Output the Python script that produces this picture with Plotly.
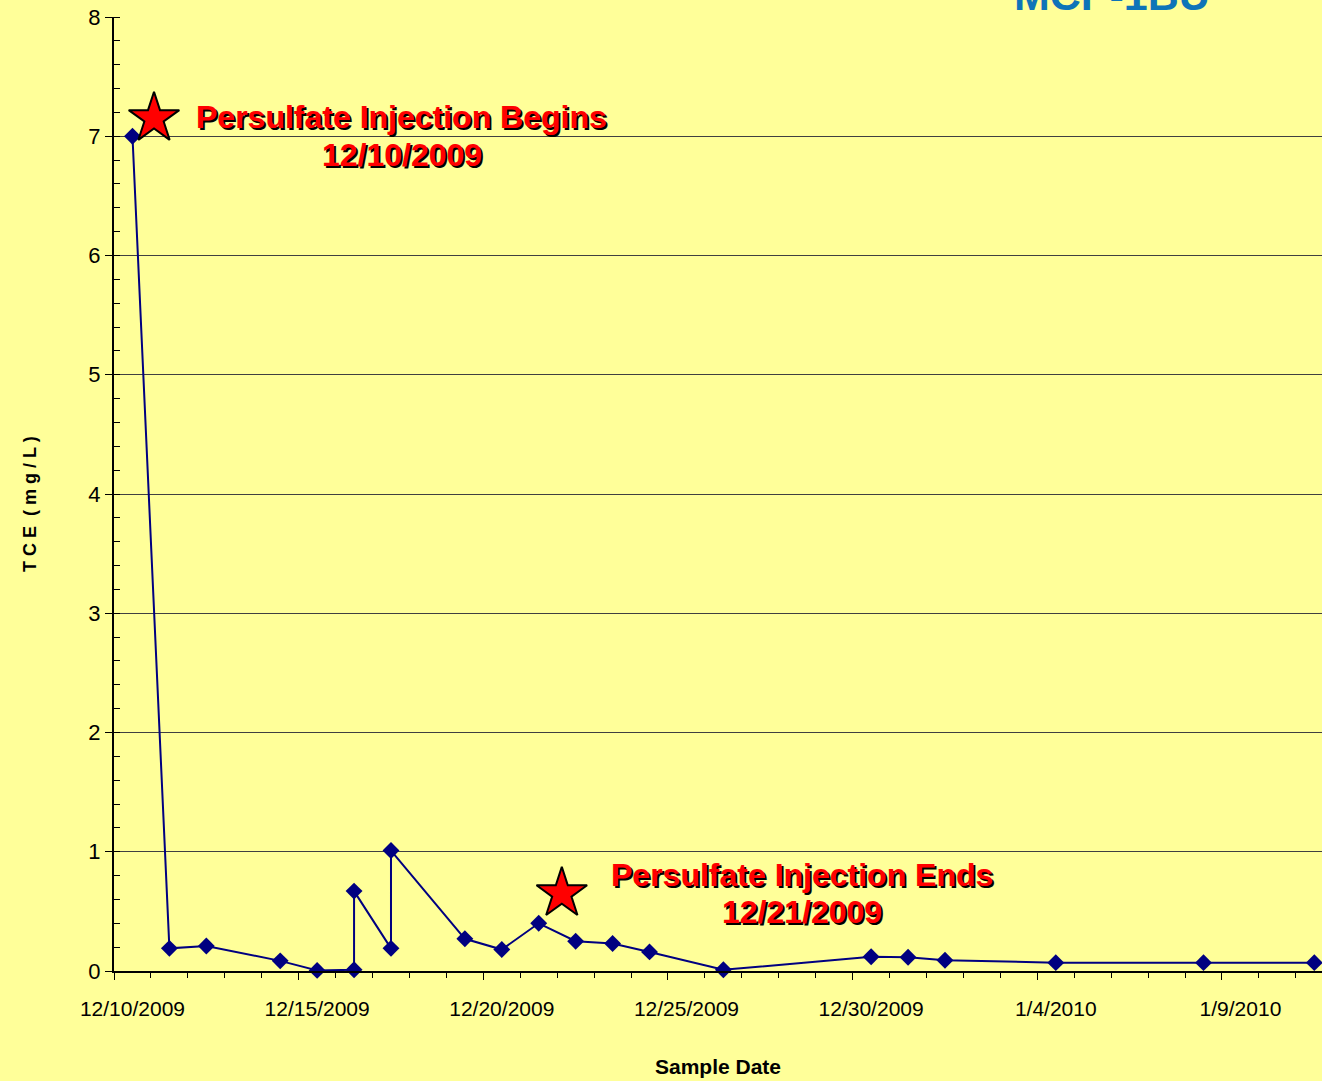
import plotly.graph_objects as go

# ---- data ----
sample_dates = ["2009-12-10", "2009-12-11", "2009-12-12", "2009-12-14", "2009-12-15",
                "2009-12-16", "2009-12-16", "2009-12-17", "2009-12-17", "2009-12-19",
                "2009-12-20", "2009-12-21", "2009-12-22", "2009-12-23", "2009-12-24",
                "2009-12-26", "2009-12-30", "2009-12-31", "2010-01-01", "2010-01-04",
                "2010-01-08", "2010-01-11"]
tce_values = [7.0, 0.19, 0.21, 0.085, 0.005,
              0.01, 0.67, 0.19, 1.01, 0.27,
              0.18, 0.40, 0.25, 0.23, 0.16,
              0.01, 0.12, 0.115, 0.09, 0.07,
              0.07, 0.07]

event_dates = ["2009-12-10 14:00", "2009-12-21 15:00"]
event_values = [7.15, 0.65]
event_line1 = ["Persulfate Injection Begins", "Persulfate Injection Ends"]
event_line2 = ["12/10/2009", "12/21/2009"]
event_label_x = ["2009-12-17 07:00", "2009-12-28 03:00"]
event_label_y1 = [7.16, 0.805]
event_label_y2 = [6.84, 0.495]

tick_dates = ["2009-12-10", "2009-12-15", "2009-12-20", "2009-12-25",
              "2009-12-30", "2010-01-04", "2010-01-09"]
tick_labels = ["12/10/2009", "12/15/2009", "12/20/2009", "12/25/2009",
               "12/30/2009", "1/4/2010", "1/9/2010"]

x_range = ["2009-12-09 12:00", "2010-01-11 05:00"]
title_text = "MCP-1BU"
y_title = "T C E  ( m g / L )"
x_title = "Sample Date"

BG = "#FFFF99"
NAVY = "#000080"
FONT = "Liberation Sans, Arial, sans-serif"

fig = go.Figure()

fig.add_trace(go.Scatter(
    x=sample_dates, y=tce_values, mode="lines+markers",
    line=dict(color=NAVY, width=2),
    marker=dict(symbol="diamond", size=13, color=NAVY),
    showlegend=False, cliponaxis=False,
))

fig.add_trace(go.Scatter(
    x=event_dates, y=event_values, mode="markers",
    marker=dict(symbol="star", size=38, color="#FF0000",
                line=dict(color="black", width=2)),
    showlegend=False, cliponaxis=False,
))

# invisible trace for the major-tick overlay axis
fig.add_trace(go.Scatter(
    x=x_range, y=[0, 0], xaxis="x2", mode="markers",
    marker=dict(opacity=0), showlegend=False, hoverinfo="skip",
))

for i in range(len(event_line1)):
    for txt, yy in ((event_line1[i], event_label_y1[i]), (event_line2[i], event_label_y2[i])):
        fig.add_annotation(
            x=event_label_x[i], y=yy, xref="x", yref="y", text="<b>%s</b>" % txt,
            showarrow=False, xanchor="center", yanchor="middle",
            font=dict(family=FONT, size=32, color="#FF0000",
                      shadow="2px 2px 0px #000000"),
        )

# chart title, mostly above the top edge of the page
fig.add_annotation(
    x=(1112 - 114) / 1208, y=1 - 4 / 954, xref="paper", yref="paper",
    text="<b>%s</b>" % title_text,
    showarrow=False, xanchor="center", yanchor="bottom",
    font=dict(family=FONT, size=43, color="#0E74B8"),
)

# y axis title
fig.add_annotation(
    x=(30 - 114) / 1208, y=(971 - 504) / 954, xref="paper", yref="paper",
    text="<b>%s</b>" % y_title, textangle=-90,
    showarrow=False, xanchor="center", yanchor="middle",
    font=dict(family=FONT, size=18, color="black"),
)

fig.update_layout(
    width=1322, height=1081,
    margin=dict(l=114, r=0, t=17, b=110),
    paper_bgcolor=BG, plot_bgcolor=BG,
    font=dict(family=FONT, size=21, color="black"),
    xaxis=dict(
        type="date", range=x_range,
        tickmode="array", tickvals=tick_dates, ticktext=tick_labels,
        ticks="outside", ticklen=18, tickcolor="rgba(0,0,0,0)",
        showgrid=False, zeroline=False,
        showline=True, linecolor="black", linewidth=1.5,
        tickfont=dict(size=21),
        minor=dict(ticks="outside", ticklen=5, tickcolor="black", tickwidth=1,
                   tick0="2009-12-09 12:00", dtick=86400000, showgrid=False),
        title=dict(text="<b>%s</b>" % x_title, font=dict(size=21), standoff=40),
    ),
    xaxis2=dict(
        type="date", range=x_range, overlaying="x", anchor="y", side="bottom",
        showticklabels=False, showgrid=False, zeroline=False, showline=False,
        ticks="outside", ticklen=8, tickcolor="black", tickwidth=1,
        tick0="2009-12-09 12:00", dtick=5 * 86400000,
    ),
    yaxis=dict(
        range=[0, 8], dtick=1, tick0=0,
        ticks="outside", ticklen=7, tickcolor="black",
        showgrid=True, gridcolor="#404040", gridwidth=1,
        zeroline=False, showline=True, linecolor="black", linewidth=2,
        tickfont=dict(size=22),
        minor=dict(ticks="inside", ticklen=6, tickcolor="black", dtick=0.2, showgrid=False),
    ),
)

fig.write_html("out.html", config={"displayModeBar": False},
               post_script="document.body.style.margin='0';")
